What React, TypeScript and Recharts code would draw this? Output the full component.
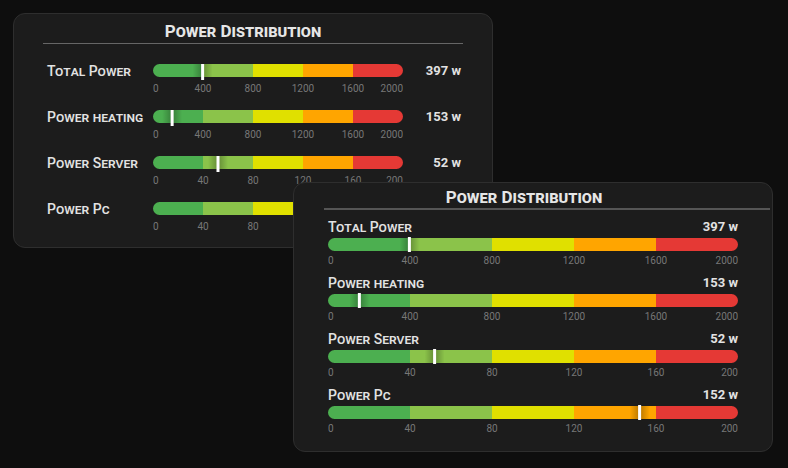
import React from "react";
import { Bar, BarChart, ReferenceLine, XAxis, YAxis } from "recharts";

const gaugeNames = ["Total Power", "Power heating", "Power Server", "Power Pc"];
const gaugeValues = [397, 153, 52, 152];
const gaugeUnit = "w";
const wideTicks = [0, 400, 800, 1200, 1600, 2000];
const narrowTicks = [0, 40, 80, 120, 160, 200];
const gaugeTicks = [wideTicks, wideTicks, narrowTicks, narrowTicks];
const bandKeys = ["b0", "b1", "b2", "b3", "b4"];
const bandColors = ["#4caf50", "#8bc34a", "#e0e000", "#ffa500", "#e53935"];
const title = "Power Distribution";

const FONT = "Roboto, sans-serif";
const BAR_H = 13;
// recharts shrinks a bar that fills its whole band, so the band is a bit taller than the bar
const BAND_H = 15;
const TOP = 2;

const markerShape = (over: number, under: number) => (props: any) => {
  const { x1, y1, y2 } = props;
  const top = Math.min(y1, y2) + (BAND_H - BAR_H) / 2;
  return (
    <g>
      <defs>
        <linearGradient id="markerGlow" x1="0" y1="0" x2="1" y2="0">
          <stop offset="0%" stopColor="#000" stopOpacity={0} />
          <stop offset="50%" stopColor="#000" stopOpacity={0.28} />
          <stop offset="100%" stopColor="#000" stopOpacity={0} />
        </linearGradient>
      </defs>
      <rect x={x1 - 10} y={top} width={20} height={BAR_H} fill="url(#markerGlow)" />
      <rect x={x1 - 1.5} y={top - over} width={3} height={BAR_H + over + under} fill="#fff" />
    </g>
  );
};

const EdgeTick = (props: any) => {
  const { x, y, index, payload, count, dy } = props;
  const anchor = index === 0 ? "start" : index === count - 1 ? "end" : "middle";
  return (
    <text x={x} y={y} dy={dy} textAnchor={anchor} fontSize={10} fontFamily={FONT} fill="#777">
      {payload.value}
    </text>
  );
};

type GaugeProps = { index: number; width: number; tickDy: number; over: number; under: number };

const Gauge = ({ index, width, tickDy, over, under }: GaugeProps) => {
  const ticks = gaugeTicks[index];
  const row: Record<string, number | string> = { name: gaugeNames[index] };
  bandKeys.forEach((k, i) => {
    row[k] = ticks[i + 1] - ticks[i];
  });
  return (
    <BarChart
      width={width}
      height={TOP + BAND_H + 22}
      data={[row]}
      layout="vertical"
      barCategoryGap={0}
      margin={{ top: TOP, right: 0, bottom: 0, left: 0 }}
    >
      <XAxis
        type="number"
        domain={[0, ticks[ticks.length - 1]]}
        ticks={ticks}
        interval={0}
        height={22}
        axisLine={false}
        tickLine={false}
        tick={(p: any) => <EdgeTick {...p} count={ticks.length} dy={tickDy} />}
      />
      <YAxis type="category" dataKey="name" hide />
      {bandKeys.map((k, i) => (
        <Bar
          key={k}
          dataKey={k}
          stackId="gauge"
          fill={bandColors[i]}
          barSize={BAR_H}
          radius={i === 0 ? [7, 0, 0, 7] : i === 4 ? [0, 7, 7, 0] : 0}
          isAnimationActive={false}
        />
      ))}
      <ReferenceLine x={gaugeValues[index]} shape={markerShape(over, under)} isFront />
    </BarChart>
  );
};

const Text = ({ style, children }: { style: React.CSSProperties; children: React.ReactNode }) => (
  <div style={{ position: "absolute", whiteSpace: "nowrap", fontFamily: FONT, ...style }}>{children}</div>
);

const panelBox: React.CSSProperties = {
  position: "absolute",
  width: 480,
  boxSizing: "border-box",
  background: "#1c1c1c",
  border: "1px solid #2e2e2e",
  borderRadius: 12,
};

const labelStyle: React.CSSProperties = {
  fontSize: 14,
  fontWeight: 500,
  fontVariant: "small-caps",
  color: "#e2e2e2",
  lineHeight: "16px",
};

const valueStyle: React.CSSProperties = {
  fontSize: 13,
  fontWeight: 700,
  color: "#e2e2e2",
  lineHeight: "16px",
};

const titleStyle: React.CSSProperties = {
  fontSize: 17,
  fontWeight: 700,
  fontVariant: "small-caps",
  color: "#e6e6e6",
  lineHeight: "22px",
  textAlign: "center",
};

const App = () => (
  <div
    style={{
      position: "fixed",
      left: 0,
      top: 0,
      width: 788,
      height: 468,
      overflow: "hidden",
      background: "#0e0e0e",
    }}
  >
    {/* back card: label on the left of the bar */}
    <div style={{ ...panelBox, left: 13, top: 13, height: 235 }}>
      <Text style={{ ...titleStyle, left: 0, width: 458, top: 6 }}>{title}</Text>
      <div style={{ position: "absolute", left: 29, top: 29, width: 420, height: 1, background: "#666" }} />
      {gaugeNames.map((name, i) => (
        <React.Fragment key={name}>
          <Text style={{ ...labelStyle, left: 33, top: 49 + i * 46 }}>{name}</Text>
          <div style={{ position: "absolute", left: 139, top: 47 + i * 46 }}>
            <Gauge index={i} width={250} tickDy={6} over={0} under={3} />
          </div>
          <Text style={{ ...valueStyle, right: 31, top: 49 + i * 46 }}>
            {gaugeValues[i]} {gaugeUnit}
          </Text>
        </React.Fragment>
      ))}
    </div>
    {/* front card: label above the bar */}
    <div style={{ ...panelBox, left: 293, top: 182, height: 270 }}>
      <Text style={{ ...titleStyle, left: 0, width: 460, top: 3 }}>{title}</Text>
      <div style={{ position: "absolute", left: 30, top: 25, width: 446, height: 2, background: "#555" }} />
      {gaugeNames.map((name, i) => (
        <React.Fragment key={name}>
          <Text style={{ ...labelStyle, left: 34, top: 36 + i * 56 }}>{name}</Text>
          <div style={{ position: "absolute", left: 34, top: 52 + i * 56 }}>
            <Gauge index={i} width={410} tickDy={4} over={1} under={1} />
          </div>
          <Text style={{ ...valueStyle, right: 34, top: 36 + i * 56 }}>
            {gaugeValues[i]} {gaugeUnit}
          </Text>
        </React.Fragment>
      ))}
    </div>
  </div>
);

export default App;
